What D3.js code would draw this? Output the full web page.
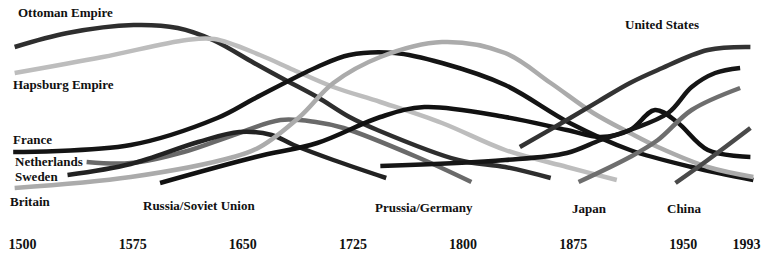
<!DOCTYPE html>
<html>
<head>
<meta charset="utf-8">
<script src="https://cdn.jsdelivr.net/npm/d3@7"></script>
<style>
  body { margin: 0; background: #fff; }
  .lbl { font-family: "Liberation Serif", "Times New Roman", serif; font-weight: bold; font-size: 13px; fill: #111; }
  .axis text { font-family: "Liberation Serif", "Times New Roman", serif; font-weight: bold; font-size: 14px; fill: #111; }
</style>
</head>
<body>
<svg id="chart" width="763" height="258"></svg>
<script>
// years shown on the time axis
const tickYears = [1500, 1575, 1650, 1725, 1800, 1875, 1950, 1993];

// relative power of each great power, [year, index]
const ottoman = [[1495,143],[1531,157],[1576,165],[1606,162],[1630,150],[1658,127],[1678,111],[1701,93],[1723,73],[1742,60],[1797,30],[1829,23],[1860,12]];
const hapsburg = [[1495,117],[1555,133],[1612,150],[1631,151],[1662,135],[1685,120],[1712,103],[1744,88],[1786,67],[1829,40],[1871,23],[1905,10]];
const france = [[1494,38],[1574,45],[1633,72],[1659,92],[1701,123],[1723,135],[1754,137],[1786,127],[1829,105],[1873,67],[1914,40],[1956,23],[1998,10]];
const netherlands = [[1544,28],[1574,27],[1610,38],[1644,55],[1676,70],[1700,68],[1719,62],[1769,33],[1806,8]];
const sweden = [[1531,15],[1574,26],[1620,48],[1648,58],[1670,55],[1685,45],[1712,30],[1748,12]];
const britain = [[1495,2],[1574,13],[1644,33],[1662,43],[1689,73],[1712,107],[1744,133],[1786,148],[1829,137],[1860,107],[1889,77],[1914,57],[1933,43],[1967,23],[1998,13]];
const russia = [[1594,7],[1659,33],[1701,47],[1744,73],[1774,83],[1829,73],[1871,60],[1894,53],[1914,60],[1931,80],[1946,68],[1967,40],[1996,33]];
const germany = [[1744,24],[1829,30],[1871,37],[1894,50],[1914,60],[1940,77],[1956,103],[1972,117],[1989,122]];
const japan = [[1879,8],[1914,33],[1933,50],[1956,80],[1989,102]];
const china = [[1945,7],[1967,30],[1996,62]];
const unitedStates = [[1839,43],[1871,70],[1894,90],[1914,107],[1933,120],[1967,140],[1996,143]];

const powers = [
  { name: "Ottoman Empire", data: ottoman, color: "#2e2e2e" },
  { name: "Hapsburg Empire", data: hapsburg, color: "#bdbdbd" },
  { name: "Netherlands", data: netherlands, color: "#6a6a6a" },
  { name: "Sweden", data: sweden, color: "#222" },
  { name: "France", data: france, color: "#141414" },
  { name: "Britain", data: britain, color: "#ababab" },
  { name: "Russia/Soviet Union", data: russia, color: "#111" },
  { name: "Prussia/Germany", data: germany, color: "#161616" },
  { name: "Japan", data: japan, color: "#6e6e6e" },
  { name: "China", data: china, color: "#4a4a4a" },
  { name: "United States", data: unitedStates, color: "#333" }
];

// label positions (annotation only)
const labels = [
  ["Ottoman Empire", 18, 17], ["Hapsburg Empire", 13, 89], ["France", 13, 144],
  ["Netherlands", 15, 166], ["Sweden", 15, 181], ["Britain", 10, 206],
  ["Russia/Soviet Union", 143, 210], ["Prussia/Germany", 375, 212],
  ["Japan", 572, 213], ["China", 667, 213], ["United States", 625, 29]
];

const svg = d3.select("#chart");

const x = d3.scaleLinear().domain([1500, 1993]).range([22, 746]);
const y = d3.scaleLinear().domain([0, 170]).range([190, 20]);

const line = d3.line()
  .x(d => x(d[0]))
  .y(d => y(d[1]))
  .curve(d3.curveCatmullRom.alpha(0.5));

svg.selectAll(".power")
  .data(powers)
  .join("path")
  .attr("class", "power")
  .attr("d", d => line(d.data))
  .attr("fill", "none")
  .attr("stroke", d => d.color)
  .attr("stroke-width", 4.5)
  .attr("stroke-linecap", "butt");

svg.selectAll(".lbl")
  .data(labels)
  .join("text")
  .attr("class", "lbl")
  .attr("x", d => d[1])
  .attr("y", d => d[2])
  .text(d => d[0]);

const axis = svg.append("g")
  .attr("class", "axis")
  .attr("transform", "translate(0,236)")
  .call(d3.axisBottom(x).tickValues(tickYears).tickFormat(d3.format("d")).tickSize(0));
axis.select(".domain").remove();
</script>
</body>
</html>
